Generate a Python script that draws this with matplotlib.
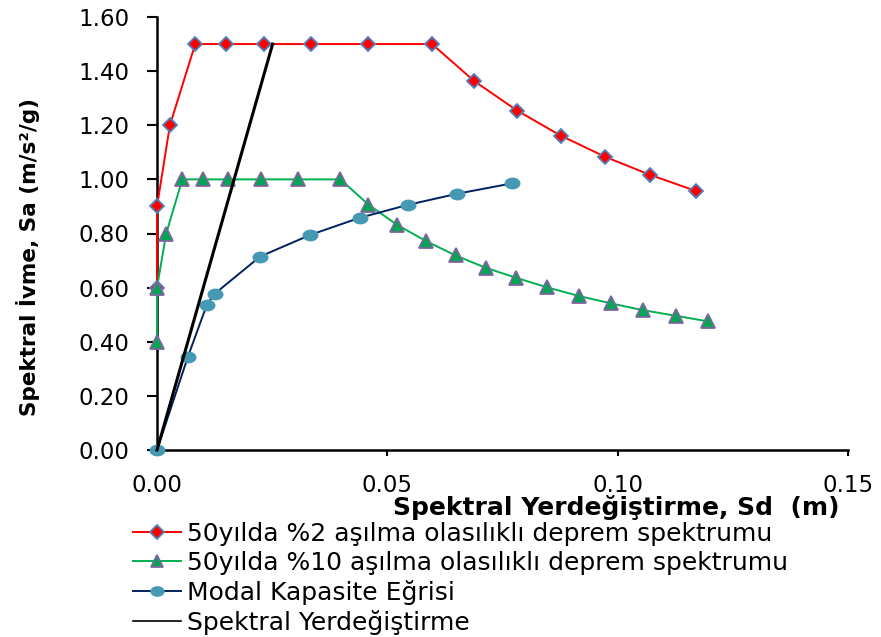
import matplotlib
matplotlib.use("Agg")
import matplotlib.pyplot as plt
from matplotlib.path import Path
from matplotlib.transforms import Affine2D

# Data
sd_2 = [0.0, 0.0, 0.0028, 0.0083, 0.0150, 0.0233, 0.0335, 0.0457, 0.0597,
        0.0688, 0.0782, 0.0876, 0.0972, 0.1070, 0.1170]
sa_2 = [0.60, 0.90, 1.20, 1.50, 1.50, 1.50, 1.50, 1.50, 1.50,
        1.364, 1.254, 1.162, 1.084, 1.017, 0.957]

sd_10 = [0.0, 0.0, 0.0020, 0.0055, 0.0100, 0.0154, 0.0225, 0.0305, 0.0398,
         0.0459, 0.0521, 0.0584, 0.0648, 0.0714, 0.0780, 0.0847, 0.0916,
         0.0985, 0.1054, 0.1126, 0.1197]
sa_10 = [0.40, 0.60, 0.80, 1.00, 1.00, 1.00, 1.00, 1.00, 1.00,
         0.907, 0.832, 0.772, 0.719, 0.673, 0.636, 0.601, 0.569,
         0.542, 0.517, 0.496, 0.475]

sd_cap = [0.0, 0.0067, 0.0108, 0.0125, 0.0224, 0.0333, 0.0440, 0.0545, 0.0652, 0.0770]
sa_cap = [0.0, 0.344, 0.536, 0.577, 0.715, 0.795, 0.858, 0.906, 0.947, 0.985]

sd_line = [0.0, 0.0251]
sa_line = [0.0, 1.50]

x_ticks = [0.00, 0.05, 0.10, 0.15]
y_ticks = [0.0, 0.2, 0.4, 0.6, 0.8, 1.0, 1.2, 1.4, 1.6]

labels = ["50yılda %2 aşılma olasılıklı deprem spektrumu",
          "50yılda %10 aşılma olasılıklı deprem spektrumu",
          "Modal Kapasite Eğrisi",
          "Spektral Yerdeğiştirme"]

plt.rcParams['font.family'] = ['DejaVu Sans']

ellipse = Path.unit_circle().transformed(Affine2D().scale(1.35, 1.0))

fig = plt.figure(figsize=(8.81, 6.37), dpi=100)
ax = fig.add_axes([157/881, 1-450/637, (848-157)/881, (450-17)/637])

h1, = ax.plot(sd_2, sa_2, color='#FF0000', lw=1.4, marker='D', ms=7.5,
              mfc='#FF0000', mec='#4F81BD', mew=1.3, label=labels[0], zorder=3)
h2, = ax.plot(sd_10, sa_10, color='#00B050', lw=1.4, marker='^', ms=10,
              mfc='#00A651', mec='#8064A2', mew=1.3, label=labels[1], zorder=3)
h3, = ax.plot(sd_cap, sa_cap, color='#002060', lw=1.4, marker=ellipse, ms=11.5,
              mfc='#4599B4', mec='#4599B4', mew=0, label=labels[2], zorder=4)
h4, = ax.plot(sd_line, sa_line, color='black', lw=2.2, label=labels[3], zorder=5)

ax.set_xlim(0, 0.15)
ax.set_ylim(0, 1.6)
ax.set_xticks(x_ticks)
ax.set_yticks(y_ticks)
ax.set_xticklabels([f"{v:.2f}" for v in x_ticks])
ax.set_yticklabels([f"{v:.2f}" for v in y_ticks])
ax.tick_params(axis='both', labelsize=16.5, width=1.5, direction='out')
ax.tick_params(axis='y', length=7, pad=13)
ax.tick_params(axis='x', length=4.5, pad=13)
for s in ['top', 'right']:
    ax.spines[s].set_visible(False)
for s in ['left', 'bottom']:
    ax.spines[s].set_linewidth(1.8)
for l in ax.lines:
    l.set_clip_on(False)

fig.text(616/881, 1-508/637, "Spektral Yerdeğiştirme, Sd  (m)", fontsize=18,
         fontweight='bold', ha='center', va='center', zorder=10,
         bbox=dict(facecolor='white', edgecolor='none', pad=0.5))
fig.text(28/881, 1-257/637, "Spektral İvme, Sa (m/s²/g)", fontsize=15.5,
         fontweight='bold', ha='center', va='center', rotation=90)

leg = fig.legend(handles=[h1, h2, h3, h4], loc='upper left',
                 bbox_to_anchor=(133/881, 1-522/637), frameon=False, fontsize=18,
                 handlelength=1.9, handletextpad=0.25, labelspacing=0.2,
                 borderaxespad=0, borderpad=0)
leg.set_zorder(5)
leg.legend_handles[3].set_linewidth(1.2)
for hh in leg.legend_handles[:3]:
    hh.set_markersize(hh.get_markersize() * 0.9)

fig.savefig("out.png", dpi=100)
